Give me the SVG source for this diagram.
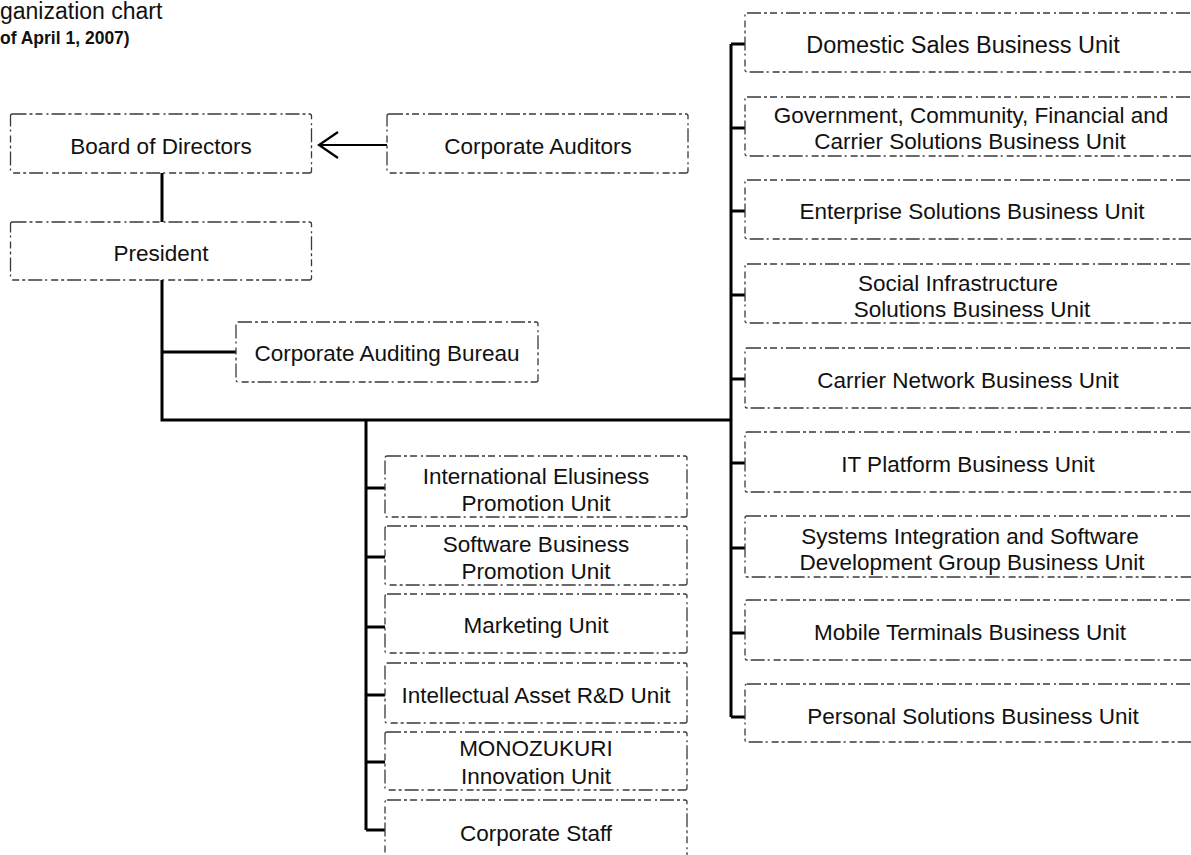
<svg xmlns="http://www.w3.org/2000/svg" width="1191" height="855" viewBox="0 0 1191 855">
<style>
.box{fill:#fff;stroke:#3a3a3a;stroke-width:1.3;stroke-dasharray:14 3 3 3 7 4 2 3}
.t{font-family:"Liberation Sans",Arial,sans-serif;font-size:22.5px;fill:#111;text-anchor:middle}
.ln{stroke:#000;stroke-width:3;fill:none}
</style>
<defs>
<marker id="ah" markerWidth="24" markerHeight="32" refX="21" refY="15" orient="auto" markerUnits="userSpaceOnUse">
<path d="M2,2 L21,15 L2,28" fill="none" stroke="#000" stroke-width="2.2"/>
</marker>
</defs>
<g id="title">
<text x="0" y="19" style="font-family:'Liberation Sans',Arial,sans-serif;font-size:23px;fill:#111">ganization chart</text>
<text x="0" y="44" style="font-family:'Liberation Sans',Arial,sans-serif;font-size:17.5px;font-weight:bold;fill:#111">of April 1, 2007)</text>
</g>
<g id="connectors">
<line class="ln" x1="387" y1="145" x2="319" y2="145" style="stroke-width:2" marker-end="url(#ah)"/>
<line class="ln" x1="162" y1="173" x2="162" y2="222"/>
<polyline class="ln" points="162,280 162,420 731,420"/>
<line class="ln" x1="162" y1="352" x2="236" y2="352"/>
<line class="ln" x1="731" y1="44" x2="731" y2="717"/>
<line class="ln" x1="731" y1="44" x2="745" y2="44"/>
<line class="ln" x1="731" y1="128" x2="745" y2="128"/>
<line class="ln" x1="731" y1="211" x2="745" y2="211"/>
<line class="ln" x1="731" y1="295" x2="745" y2="295"/>
<line class="ln" x1="731" y1="379" x2="745" y2="379"/>
<line class="ln" x1="731" y1="463" x2="745" y2="463"/>
<line class="ln" x1="731" y1="548" x2="745" y2="548"/>
<line class="ln" x1="731" y1="633" x2="745" y2="633"/>
<line class="ln" x1="731" y1="717" x2="745" y2="717"/>
<line class="ln" x1="366" y1="420" x2="366" y2="830"/>
<line class="ln" x1="366" y1="488" x2="385" y2="488"/>
<line class="ln" x1="366" y1="557" x2="385" y2="557"/>
<line class="ln" x1="366" y1="627" x2="385" y2="627"/>
<line class="ln" x1="366" y1="695" x2="385" y2="695"/>
<line class="ln" x1="366" y1="762" x2="385" y2="762"/>
<line class="ln" x1="366" y1="830" x2="385" y2="830"/>
</g>
<g id="board"><rect class="box" x="10.5" y="114" width="301" height="59" rx="2"/><text class="t" x="161" y="154">Board of Directors</text></g>
<g id="auditors"><rect class="box" x="387" y="114" width="301" height="59" rx="2"/><text class="t" x="538" y="154">Corporate Auditors</text></g>
<g id="president"><rect class="box" x="10.5" y="222" width="301" height="58" rx="2"/><text class="t" x="161" y="261">President</text></g>
<g id="auditing-bureau"><rect class="box" x="236" y="322" width="302" height="60" rx="2"/><text class="t" x="387" y="361">Corporate Auditing Bureau</text></g>

<g id="domestic"><rect class="box" x="745" y="13" width="450" height="59" rx="2"/><text class="t" x="963" y="53" style="font-size:23.5px">Domestic Sales Business Unit</text></g>
<g id="government"><rect class="box" x="745" y="97" width="450" height="59" rx="2"/><text class="t" x="971" y="123">Government, Community, Financial and</text><text class="t" x="970" y="149">Carrier Solutions Business Unit</text></g>
<g id="enterprise"><rect class="box" x="745" y="180" width="450" height="59" rx="2"/><text class="t" x="972" y="219">Enterprise Solutions Business Unit</text></g>
<g id="social"><rect class="box" x="745" y="264" width="450" height="59" rx="2"/><text class="t" x="958" y="291">Social Infrastructure</text><text class="t" x="972" y="317">Solutions Business Unit</text></g>
<g id="carrier"><rect class="box" x="745" y="348" width="450" height="60" rx="2"/><text class="t" x="968" y="388">Carrier Network Business Unit</text></g>
<g id="itplatform"><rect class="box" x="745" y="432" width="450" height="60" rx="2"/><text class="t" x="968" y="472">IT Platform Business Unit</text></g>
<g id="systems"><rect class="box" x="745" y="516" width="450" height="61" rx="2"/><text class="t" x="970" y="544">Systems Integration and Software</text><text class="t" x="972" y="570">Development Group Business Unit</text></g>
<g id="mobile"><rect class="box" x="745" y="600" width="450" height="60" rx="2"/><text class="t" x="970" y="640">Mobile Terminals Business Unit</text></g>
<g id="personal"><rect class="box" x="745" y="684" width="450" height="58" rx="2"/><text class="t" x="973" y="724">Personal Solutions Business Unit</text></g>

<g id="international"><rect class="box" x="385" y="456" width="302" height="61" rx="2"/><text class="t" x="536" y="484">International Elusiness</text><text class="t" x="536" y="511">Promotion Unit</text></g>
<g id="software"><rect class="box" x="385" y="526" width="302" height="59" rx="2"/><text class="t" x="536" y="552">Software Business</text><text class="t" x="536" y="579">Promotion Unit</text></g>
<g id="marketing"><rect class="box" x="385" y="594" width="302" height="59" rx="2"/><text class="t" x="536" y="633">Marketing Unit</text></g>
<g id="intellectual"><rect class="box" x="385" y="663" width="302" height="60" rx="2"/><text class="t" x="536" y="703">Intellectual Asset R&amp;D Unit</text></g>
<g id="monozukuri"><rect class="box" x="385" y="732" width="302" height="58" rx="2"/><text class="t" x="536" y="756">MONOZUKURI</text><text class="t" x="536" y="784">Innovation Unit</text></g>
<g id="corporate-staff"><rect class="box" x="385" y="800" width="302" height="70" rx="2"/><text class="t" x="536" y="841">Corporate Staff</text></g>
</svg>
